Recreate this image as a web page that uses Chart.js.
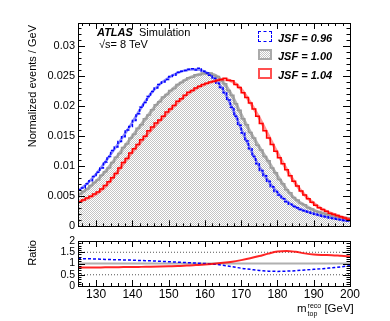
<!DOCTYPE html>
<html>
<head>
<meta charset="utf-8">
<script src="https://cdn.jsdelivr.net/npm/chart.js@4.4.1/dist/chart.umd.min.js"></script>
<style>
  body { margin: 0; background: #fff; }
  #wrap { position: relative; width: 390px; height: 321px; overflow: hidden; font-family: "Liberation Sans", Arial, sans-serif; color: #000; }
  canvas { position: absolute; left: 0; }
  .txt { position: absolute; white-space: nowrap; font-size: 11px; line-height: 11px; }
  .vtitle { position: absolute; white-space: nowrap; font-size: 11px; line-height: 11px;
            transform-origin: 0 0; transform: rotate(-90deg) translate(-100%, -50%); }
  .bi { font-weight: bold; font-style: italic; }
  .box { position: absolute; width: 14px; height: 11px; box-sizing: border-box; }
</style>
</head>
<body>
<div id="wrap">
  <canvas id="mainChart" width="390" height="236" style="top:0;width:390px;height:236px"></canvas>
  <canvas id="ratioChart" width="390" height="92" style="top:229px;width:390px;height:92px"></canvas>

  <div class="vtitle" style="left:32px;top:25px">Normalized events / GeV</div>
  <div class="vtitle" style="left:32px;top:240px">Ratio</div>

  <div class="txt" style="left:97px;top:27px"><span class="bi">ATLAS</span>&nbsp; Simulation</div>
  <div class="txt" style="left:99px;top:39px">√s= 8 TeV</div>

  <div class="box" style="left:258px;top:31px;border:1.5px dashed #0000ff"></div>
  <div class="box" style="left:258px;top:49px;border:2px solid #aaaaaa;background:repeating-conic-gradient(#c4c4c4 0 25%, #ffffff 0 50%) 0 0 / 2px 2px"></div>
  <div class="box" style="left:258px;top:68px;border:2px solid #ff5050"></div>
  <div class="txt bi" style="left:278px;top:33px">JSF = 0.96</div>
  <div class="txt bi" style="left:278px;top:51px">JSF = 1.00</div>
  <div class="txt bi" style="left:278px;top:70px">JSF = 1.04</div>

  <div class="txt" style="left:297px;top:302px;font-size:11.5px;line-height:11px">m<span style="display:inline-block;vertical-align:-4px;font-size:7px;line-height:7.5px;margin-left:1px">reco<br>top</span> [GeV]</div>
</div>

<script>
// bin edges of the histograms (GeV)
const binEdges = [125, 126, 127, 128, 129, 130, 131, 132, 133, 134, 135, 136, 137, 138, 139,
  140, 141, 142, 143, 144, 145, 146, 147, 148, 149, 150, 151, 152, 153, 154, 155, 156, 157,
  158, 159, 160, 161, 162, 163, 164, 165, 166, 167, 168, 169, 170, 171, 172, 173, 174, 175,
  176, 177, 178, 179, 180, 181, 182, 183, 184, 185, 186, 187, 188, 189, 190, 191, 192, 193,
  194, 195, 196, 197, 198, 199, 200];

// histogram contents, one value per bin
const histJsf096 = [0.0061, 0.0064, 0.0071, 0.0076, 0.0083, 0.0090, 0.0097, 0.0107, 0.0116, 0.0126,
  0.0132, 0.0141, 0.0149, 0.0160, 0.0166, 0.0176, 0.0187, 0.0198, 0.0206, 0.0216,
  0.0224, 0.0230, 0.0236, 0.0240, 0.0244, 0.0249, 0.0251, 0.0256, 0.0258, 0.0259,
  0.0261, 0.0262, 0.0260, 0.0263, 0.0258, 0.0255, 0.0251, 0.0246, 0.0238, 0.0231,
  0.0222, 0.0210, 0.0198, 0.0183, 0.0168, 0.0155, 0.0142, 0.0129, 0.0116, 0.0104,
  0.0093, 0.0084, 0.0075, 0.0066, 0.0058, 0.0052, 0.0046, 0.0041, 0.0037, 0.0033,
  0.0031, 0.0028, 0.0026, 0.0024, 0.0022, 0.0020, 0.0019, 0.0017, 0.0016, 0.0014,
  0.0013, 0.0012, 0.0011, 0.0010, 0.0009];

const histJsf100 = [0.0054, 0.0058, 0.0062, 0.0068, 0.0073, 0.0077, 0.0085, 0.0091, 0.0097, 0.0106,
  0.0115, 0.0121, 0.0131, 0.0137, 0.0147, 0.0153, 0.0163, 0.0169, 0.0179, 0.0185,
  0.0194, 0.0202, 0.0207, 0.0215, 0.0219, 0.0226, 0.0229, 0.0236, 0.0239, 0.0243,
  0.0247, 0.0248, 0.0252, 0.0252, 0.0255, 0.0254, 0.0255, 0.0251, 0.0249, 0.0242,
  0.0237, 0.0226, 0.0218, 0.0204, 0.0193, 0.0179, 0.0169, 0.0156, 0.0147, 0.0135,
  0.0127, 0.0116, 0.0109, 0.0097, 0.0089, 0.0078, 0.0071, 0.0061, 0.0056, 0.0048,
  0.0044, 0.0038, 0.0036, 0.0031, 0.0029, 0.0025, 0.0024, 0.0022, 0.0020, 0.0019,
  0.0018, 0.0016, 0.0015, 0.0014, 0.0013];

const histJsf104 = [0.0041, 0.0044, 0.0047, 0.0050, 0.0054, 0.0057, 0.0062, 0.0068, 0.0074, 0.0081,
  0.0088, 0.0097, 0.0106, 0.0113, 0.0122, 0.0129, 0.0136, 0.0144, 0.0150, 0.0159,
  0.0165, 0.0172, 0.0177, 0.0183, 0.0190, 0.0195, 0.0201, 0.0208, 0.0212, 0.0218,
  0.0223, 0.0226, 0.0230, 0.0233, 0.0236, 0.0238, 0.0240, 0.0241, 0.0243, 0.0244,
  0.0246, 0.0243, 0.0242, 0.0236, 0.0231, 0.0222, 0.0214, 0.0205, 0.0195, 0.0183,
  0.0171, 0.0159, 0.0147, 0.0136, 0.0125, 0.0114, 0.0104, 0.0094, 0.0084, 0.0075,
  0.0067, 0.0059, 0.0052, 0.0046, 0.0040, 0.0035, 0.0031, 0.0028, 0.0025, 0.0022,
  0.0020, 0.0018, 0.0016, 0.0014, 0.0012];

// smooth fit curves, sampled every 2.5 GeV
const fitMass = [125, 127.5, 130, 132.5, 135, 137.5, 140, 142.5, 145, 147.5, 150, 152.5, 155,
  157.5, 160, 162.5, 165, 167.5, 170, 172.5, 175, 177.5, 180, 182.5, 185, 187.5, 190, 192.5,
  195, 197.5, 200];
const fitJsf096 = [0.0059, 0.0071, 0.0087, 0.0107, 0.0128, 0.0150, 0.0173, 0.0198, 0.0220, 0.0236,
  0.0247, 0.0255, 0.0260, 0.0261, 0.0257, 0.0246, 0.0227, 0.0197, 0.0162, 0.0129,
  0.0099, 0.0075, 0.0056, 0.0042, 0.0032, 0.0026, 0.0021, 0.0017, 0.0014, 0.0011, 0.0009];
const fitJsf100 = [0.0052, 0.0062, 0.0075, 0.0091, 0.0110, 0.0130, 0.0150, 0.0170, 0.0190, 0.0208,
  0.0222, 0.0235, 0.0245, 0.0251, 0.0254, 0.0252, 0.0240, 0.0217, 0.0186, 0.0157,
  0.0132, 0.0108, 0.0084, 0.0062, 0.0045, 0.0035, 0.0027, 0.0022, 0.0018, 0.0015, 0.0013];
const fitJsf104 = [0.0040, 0.0046, 0.0054, 0.0066, 0.0084, 0.0104, 0.0124, 0.0142, 0.0159, 0.0175,
  0.0191, 0.0206, 0.0219, 0.0229, 0.0236, 0.0241, 0.0244, 0.0241, 0.0228, 0.0206,
  0.0180, 0.0151, 0.0122, 0.0095, 0.0071, 0.0052, 0.0038, 0.0028, 0.0021, 0.0016, 0.0012];

// ratio of fits to JSF = 1.00
const ratioJsf096 = [1.22, 1.21, 1.20, 1.18, 1.17, 1.16, 1.15, 1.13, 1.12, 1.10, 1.08, 1.06, 1.04,
  1.02, 1.00, 0.97, 0.92, 0.86, 0.79, 0.74, 0.69, 0.66, 0.65, 0.66, 0.68, 0.71, 0.74, 0.77,
  0.81, 0.85, 0.90];
const ratioJsf104 = [0.82, 0.82, 0.82, 0.83, 0.83, 0.84, 0.84, 0.85, 0.86, 0.87, 0.88, 0.89, 0.91,
  0.93, 0.96, 0.99, 1.03, 1.08, 1.15, 1.23, 1.33, 1.44, 1.53, 1.56, 1.52, 1.45, 1.40, 1.38,
  1.37, 1.34, 1.31];
const ratioRefLines = [0.5, 1, 1.5];

const mainYTicks = [0, 0.005, 0.01, 0.015, 0.02, 0.025, 0.03];
const ratioYTicks = [0, 0.5, 1, 1.5, 2];
const xTicks = [130, 140, 150, 160, 170, 180, 190, 200];

const FONT = "'Liberation Sans', Arial, sans-serif";
const BLUE = "#0000ff";
const RED = "#ff0000";
const GREY = "#a0a0a0";

function histPoints(values) {
  const pts = values.map((v, i) => ({ x: binEdges[i], y: v }));
  pts.push({ x: binEdges[binEdges.length - 1], y: values[values.length - 1] });
  return pts;
}

function curvePoints(xs, ys) {
  return xs.map((x, i) => ({ x: x, y: ys[i] }));
}

function checkerPattern() {
  const c = document.createElement("canvas");
  c.width = 2;
  c.height = 2;
  const g = c.getContext("2d");
  g.fillStyle = "#ffffff";
  g.fillRect(0, 0, 2, 2);
  g.fillStyle = "#c4c4c4";
  g.fillRect(0, 0, 1, 1);
  g.fillRect(1, 1, 1, 1);
  return g.createPattern(c, "repeat");
}

function keepTicks(list) {
  return (scale) => {
    scale.ticks = list.map((v) => ({ value: v }));
  };
}

// ROOT style frame with ticks pointing into the pad
const rootFrame = {
  id: "rootFrame",
  afterDraw(chart, args, opts) {
    const { ctx, chartArea: a } = chart;
    const x = chart.scales.x;
    const y = chart.scales.y;
    ctx.save();
    ctx.strokeStyle = "#000";
    ctx.lineWidth = 1;
    ctx.beginPath();
    const drawX = (step, len) => {
      for (let v = Math.ceil(x.min / step) * step; v <= x.max + 1e-9; v += step) {
        const px = Math.round(x.getPixelForValue(v)) + 0.5;
        ctx.moveTo(px, a.bottom);
        ctx.lineTo(px, a.bottom - len);
        ctx.moveTo(px, a.top);
        ctx.lineTo(px, a.top + len);
      }
    };
    const drawY = (step, len) => {
      const n = Math.floor((y.max - y.min) / step + 1e-6);
      for (let k = 0; k <= n; k++) {
        const py = Math.round(y.getPixelForValue(y.min + k * step)) + 0.5;
        ctx.moveTo(a.left, py);
        ctx.lineTo(a.left + len, py);
        ctx.moveTo(a.right, py);
        ctx.lineTo(a.right - len, py);
      }
    };
    drawX(opts.xMajor, opts.xMajorLen);
    drawX(opts.xMinor, opts.xMinorLen);
    drawY(opts.yMajor, opts.yMajorLen);
    drawY(opts.yMinor, opts.yMinorLen);
    ctx.stroke();
    ctx.strokeRect(Math.round(a.left) + 0.5, Math.round(a.top) + 0.5,
      Math.round(a.right - a.left), Math.round(a.bottom - a.top));
    ctx.restore();
  },
};

// main pad
const mainChart = new Chart(document.getElementById("mainChart"), {
  type: "line",
  data: {
    datasets: [
      {
        data: histPoints(histJsf104),
        borderColor: RED,
        borderWidth: 1.5,
        stepped: true,
        fill: false,
        order: 1,
      },
      {
        data: curvePoints(fitMass, fitJsf104),
        borderColor: "rgba(255, 60, 60, 0.55)",
        borderWidth: 3,
        cubicInterpolationMode: "monotone",
        fill: false,
        order: 2,
      },
      {
        data: histPoints(histJsf096),
        borderColor: BLUE,
        borderWidth: 1.5,
        borderDash: [3, 1.5],
        stepped: true,
        fill: false,
        order: 3,
      },
      {
        data: curvePoints(fitMass, fitJsf096),
        borderColor: "rgba(40, 40, 255, 0.55)",
        borderWidth: 2.5,
        cubicInterpolationMode: "monotone",
        fill: false,
        order: 4,
      },
      {
        data: curvePoints(fitMass, fitJsf100),
        borderColor: "rgba(150, 150, 150, 0.7)",
        borderWidth: 3,
        cubicInterpolationMode: "monotone",
        fill: false,
        order: 5,
      },
      {
        data: histPoints(histJsf100),
        borderColor: GREY,
        borderWidth: 1.5,
        stepped: true,
        fill: "origin",
        backgroundColor: checkerPattern(),
        order: 6,
      },
    ],
  },
  options: {
    responsive: false,
    animation: false,
    devicePixelRatio: 1,
    layout: { padding: { left: 0, right: 40, top: 23, bottom: 8 } },
    elements: { point: { radius: 0 } },
    plugins: {
      legend: { display: false },
      tooltip: { enabled: false },
      rootFrame: { xMajor: 10, xMinor: 2, xMajorLen: 6, xMinorLen: 3,
                   yMajor: 0.005, yMinor: 0.001, yMajorLen: 7, yMinorLen: 3.5 },
    },
    scales: {
      x: { type: "linear", min: 125, max: 200, display: false },
      y: {
        min: 0,
        max: 0.0338,
        afterFit: (s) => { s.width = 78; },
        afterBuildTicks: keepTicks(mainYTicks),
        grid: { display: false, drawTicks: false },
        border: { display: false },
        ticks: {
          padding: 3,
          autoSkip: false,
          color: "#000",
          font: { family: FONT, size: 11 },
          callback: (v) => String(+Number(v).toFixed(4)),
        },
      },
    },
  },
  plugins: [rootFrame],
});

// ratio pad
const refSets = ratioRefLines.map((r) => ({
  data: [{ x: 125, y: r }, { x: 200, y: r }],
  borderColor: r === 1 ? "#b0b0b0" : "#555555",
  borderWidth: r === 1 ? 2 : 1,
  borderDash: r === 1 ? [] : [1, 2],
  fill: false,
  order: 10,
}));

const ratioChart = new Chart(document.getElementById("ratioChart"), {
  type: "line",
  data: {
    datasets: [
      {
        data: curvePoints(fitMass, ratioJsf104),
        borderColor: "rgba(255, 0, 0, 0.85)",
        borderWidth: 2,
        cubicInterpolationMode: "monotone",
        fill: false,
        order: 1,
      },
      {
        data: curvePoints(fitMass, ratioJsf096),
        borderColor: BLUE,
        borderWidth: 1.5,
        borderDash: [3, 2],
        cubicInterpolationMode: "monotone",
        fill: false,
        order: 2,
      },
      ...refSets,
    ],
  },
  options: {
    responsive: false,
    animation: false,
    devicePixelRatio: 1,
    layout: { padding: { left: 0, right: 40, top: 12, bottom: 0 } },
    elements: { point: { radius: 0 } },
    plugins: {
      legend: { display: false },
      tooltip: { enabled: false },
      rootFrame: { xMajor: 10, xMinor: 2, xMajorLen: 6, xMinorLen: 3,
                   yMajor: 0.5, yMinor: 0.1, yMajorLen: 7, yMinorLen: 3.5 },
    },
    scales: {
      x: {
        type: "linear",
        min: 125,
        max: 200,
        afterFit: (s) => { s.height = 35; },
        afterBuildTicks: keepTicks(xTicks),
        grid: { display: false, drawTicks: false },
        border: { display: false },
        ticks: {
          padding: 1,
          autoSkip: false,
          maxRotation: 0,
          color: "#000",
          font: { family: FONT, size: 12 },
        },
      },
      y: {
        min: 0,
        max: 2,
        afterFit: (s) => { s.width = 78; },
        afterBuildTicks: keepTicks(ratioYTicks),
        grid: { display: false, drawTicks: false },
        border: { display: false },
        ticks: {
          padding: 3,
          autoSkip: false,
          color: "#000",
          font: { family: FONT, size: 10.5 },
          callback: (v) => String(v),
        },
      },
    },
  },
  plugins: [rootFrame],
});
</script>
</body>
</html>
